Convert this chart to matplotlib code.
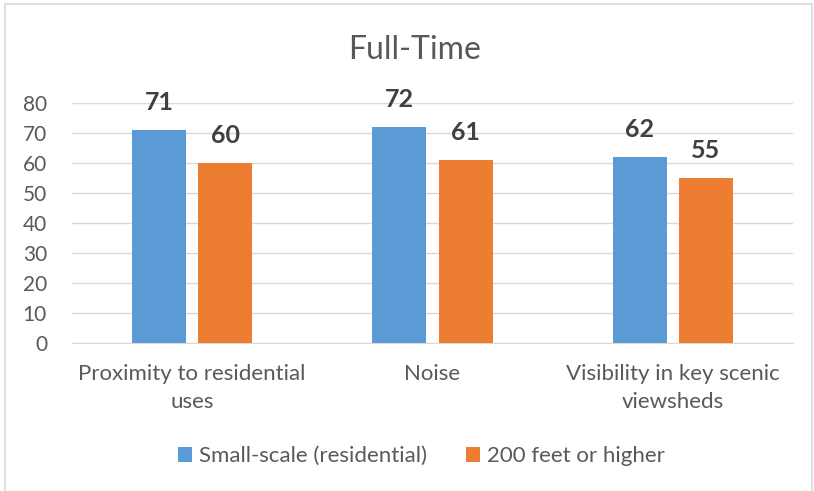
import matplotlib
matplotlib.use("Agg")
import matplotlib.pyplot as plt
from matplotlib.patches import Rectangle
import numpy as np

plt.rcParams['font.family'] = ['Lato', 'DejaVu Sans']

categories = ["Proximity to residential\nuses", "Noise", "Visibility in key scenic\nviewsheds"]
series_names = ["Small-scale (residential)", "200 feet or higher"]
small_scale = [71, 72, 62]
high_200 = [60, 61, 55]
yticks = [0, 10, 20, 30, 40, 50, 60, 70, 80]

fig = plt.figure(figsize=(8.14, 4.91), dpi=100)
fig.patches.append(Rectangle((5/814, -0.05), 807/814, 1.05 - 4/491, transform=fig.transFigure,
                             fill=False, edgecolor="#d9d9d9", linewidth=1.2))
ax = fig.add_axes([72/814, 148/491, 721/814, 240/491])

x = np.arange(len(categories))
w = 0.225
off = 0.1375
b1 = ax.bar(x - off, small_scale, w, color="#5B9BD5", label=series_names[0], zorder=3)
b2 = ax.bar(x + off, high_200, w, color="#ED7D31", label=series_names[1], zorder=3)

for bars in (b1, b2):
    for r in bars:
        ax.annotate(f"{int(r.get_height())}", (r.get_x() + r.get_width()/2, r.get_height()),
                    xytext=(0, 14.4), textcoords="offset points", ha="center", va="baseline",
                    fontsize=18, fontweight="bold", color="#404040")

ax.set_xlim(-0.5, 2.5)
ax.set_ylim(0, 80)
ax.set_yticks(yticks)
ax.set_xticks(x)
ax.set_xticklabels(categories, fontsize=16, color="#595959", linespacing=1.5)
ax.tick_params(axis='y', length=0, labelsize=15, labelcolor="#595959", pad=18)
ax.tick_params(axis='x', length=0, pad=15)
ax.grid(axis='y', color="#d9d9d9", linewidth=1, zorder=0)
for s in ["top", "right", "left"]:
    ax.spines[s].set_visible(False)
ax.spines["bottom"].set_color("#d9d9d9")

fig.text(415/814, 1 - 59/491, "Full-Time", ha="center", va="baseline", fontsize=23, color="#595959")

fig.legend(handles=[b1, b2], labels=series_names, loc="center", bbox_to_anchor=(421/814, 1 - 456/491),
           ncol=2, frameon=False, fontsize=16, handlelength=0.65, handleheight=0.65,
           handletextpad=0.3, columnspacing=1.75, labelcolor="#595959")

fig.savefig("out.png", dpi=100)
